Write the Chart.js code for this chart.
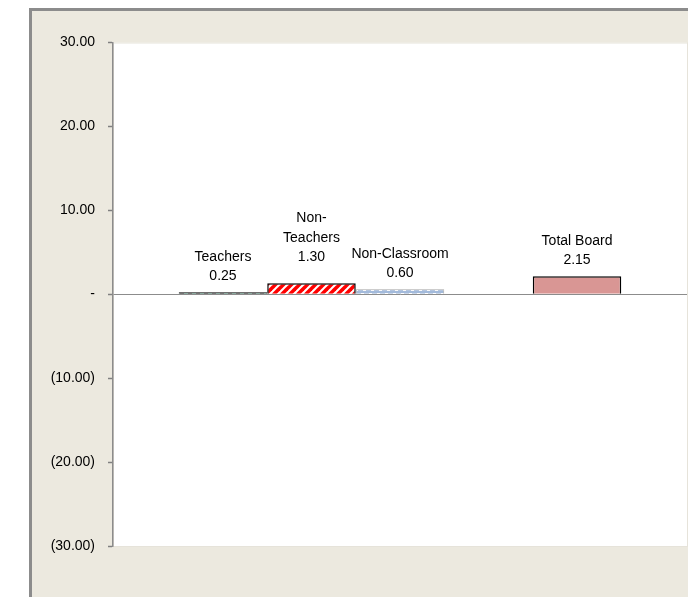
<!DOCTYPE html>
<html>
<head>
<meta charset="utf-8">
<script src="https://cdn.jsdelivr.net/npm/chart.js@4.4.0/dist/chart.umd.min.js"></script>
<style>
  html,body{margin:0;padding:0;background:#fff;}
  #wrap{position:absolute;left:0;top:0;width:688px;height:597px;}
</style>
</head>
<body>
<div id="wrap"><canvas id="c" width="688" height="597"></canvas></div>
<script>
// ---- data ----
const categories = [''];
const seriesNames = ['Teachers', 'Non-\nTeachers', 'Non-Classroom', '', 'Total Board'];
const seriesValues = [0.25, 1.30, 0.60, null, 2.15];
const yTickMin = -30, yTickMax = 30, yTickStep = 10;

// ---- styles ----
const labelLift = [0, 10, 0, 0, 0];

function makePattern(w, h, draw) {
  const c = document.createElement('canvas');
  c.width = w; c.height = h;
  const g = c.getContext('2d');
  draw(g, w, h);
  return document.getElementById('c').getContext('2d').createPattern(c, 'repeat');
}
const teacherFill = makePattern(8, 2, (g, w, h) => {
  g.fillStyle = '#0a0a0a'; g.fillRect(0, 0, w, h);
  g.fillStyle = '#2f6b55'; g.fillRect(0, 0, 4, 2);
});
const nonTeacherFill = makePattern(8, 8, (g, w, h) => {
  g.fillStyle = '#ffffff'; g.fillRect(0, 0, w, h);
  g.strokeStyle = '#ff0000'; g.lineWidth = 3.6;
  for (let k = -2; k <= 2; k++) {
    g.beginPath(); g.moveTo(k * 8 - 2, h + 2); g.lineTo(k * 8 + w + 2, -2); g.stroke();
  }
});
const nonClassFill = makePattern(8, 4, (g, w, h) => {
  g.fillStyle = '#a3badb'; g.fillRect(0, 0, w, h);
  g.fillStyle = '#ffffff'; g.fillRect(1, 1, 3, 1); g.fillRect(3, 2, 3, 1);
});
const fills = [teacherFill, nonTeacherFill, nonClassFill, 'transparent', '#d99694'];
const borders = ['#000000', '#000000', '#a6a6a6', 'transparent', '#000000'];
const borderWidths = [1, 1.5, 1, 0, 1.5];

const datasets = seriesNames.map((n, i) => ({
  label: n,
  data: [seriesValues[i]],
  backgroundColor: fills[i],
  borderColor: borders[i],
  borderWidth: borderWidths[i],
  borderSkipped: 'start',
  barPercentage: 1,
  categoryPercentage: 0.771
}));

const framePlugin = {
  id: 'frame',
  beforeDraw(chart) {
    const ctx = chart.ctx;
    ctx.save();
    ctx.fillStyle = '#ffffff';
    ctx.fillRect(0, 0, chart.width, chart.height);
    ctx.fillStyle = '#ece9df';
    ctx.fillRect(30, 9, chart.width - 30, chart.height - 9);
    ctx.fillStyle = '#8c8c8c';
    ctx.fillRect(29, 8, 3, chart.height - 8);
    ctx.fillRect(29, 8, chart.width - 29, 3);
    const a = chart.chartArea;
    ctx.fillStyle = '#ffffff';
    ctx.fillRect(a.left, a.top, a.right - a.left, a.bottom - a.top);
    ctx.strokeStyle = '#e6e3da';
    ctx.lineWidth = 1;
    ctx.strokeRect(a.left + 0.5, a.top + 0.5, a.right - a.left, a.bottom - a.top);
    ctx.restore();
  }
};

const labelPlugin = {
  id: 'barLabels',
  afterDatasetsDraw(chart) {
    const ctx = chart.ctx;
    ctx.save();
    ctx.font = '14px "Liberation Sans", Arial, sans-serif';
    ctx.fillStyle = '#000000';
    ctx.textAlign = 'center';
    ctx.textBaseline = 'middle';
    chart.data.datasets.forEach((ds, i) => {
      const v = ds.data[0];
      if (v == null) return;
      const el = chart.getDatasetMeta(i).data[0];
      const lines = ds.label.split('\n').concat([v.toFixed(2)]);
      let y = el.y - 16 - labelLift[i];
      for (let k = lines.length - 1; k >= 0; k--) {
        ctx.fillText(lines[k], el.x, y);
        y -= 19.4;
      }
    });
    ctx.restore();
  }
};

new Chart(document.getElementById('c'), {
  type: 'bar',
  data: { labels: categories, datasets },
  options: {
    responsive: false,
    animation: false,
    layout: { padding: { left: 32, top: 42.5, right: 1, bottom: 51 } },
    plugins: { legend: { display: false }, tooltip: { enabled: false } },
    scales: {
      x: { display: false },
      y: {
        min: yTickMin, max: yTickMax,
        afterFit(scale) { scale.width = 81; },
        ticks: {
          stepSize: yTickStep,
          padding: 13,
          color: '#000000',
          font: { family: '"Liberation Sans", Arial, sans-serif', size: 14 },
          callback: v => v === 0 ? '-' : (v < 0 ? '(' + Math.abs(v).toFixed(2) + ')' : v.toFixed(2))
        },
        grid: {
          drawOnChartArea: true,
          tickLength: 5,
          tickColor: '#808080',
          tickWidth: 1.5,
          color: c => (c.tick && c.tick.value === 0) ? '#8c8c8c' : 'transparent',
          lineWidth: 1
        },
        border: { display: true, color: '#8c8c8c', width: 1.5 }
      }
    }
  },
  plugins: [framePlugin, labelPlugin]
});
</script>
</body>
</html>
